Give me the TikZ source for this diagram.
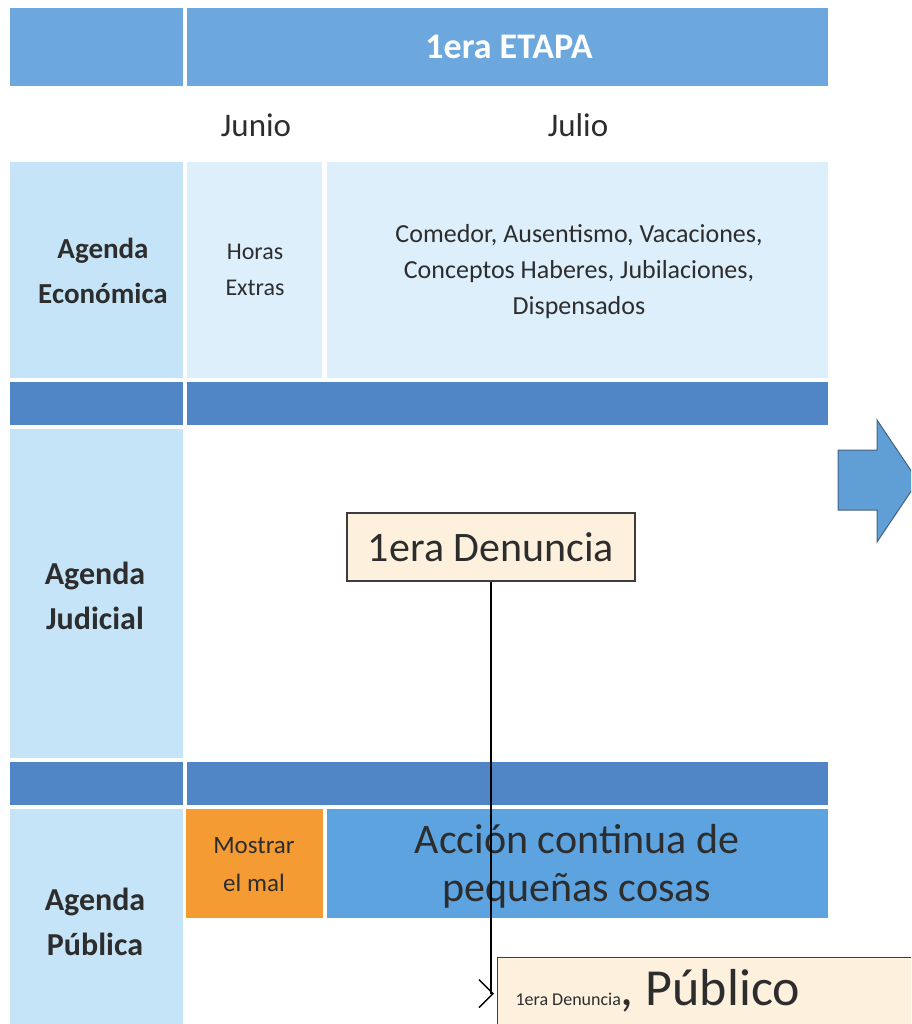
\documentclass[tikz,border=0pt]{standalone}
\usepackage{fontspec}
\setmainfont{Carlito}
\usetikzlibrary{arrows.meta}

\definecolor{headblue}{RGB}{108,168,222}
\definecolor{bandblue}{RGB}{80,134,198}
\definecolor{sideblue}{RGB}{198,228,247}
\definecolor{paleblue}{RGB}{221,239,251}
\definecolor{actblue}{RGB}{92,163,224}
\definecolor{mostorange}{RGB}{244,155,52}
\definecolor{beige}{RGB}{253,241,222}
\definecolor{textgray}{RGB}{45,45,45}
\definecolor{boxgray}{RGB}{60,60,60}
\definecolor{arrowblue}{RGB}{96,158,214}
\definecolor{arrowedge}{RGB}{70,98,128}

\begin{document}
\begin{tikzpicture}[x=1pt,y=-1pt,
  rowtitle/.style={text=textgray,align=center,font=\bfseries\fontsize{32}{45}\selectfont},
  celltext/.style={text=textgray,align=center,font=\fontsize{24}{36}\selectfont},
  notebox/.style={draw=boxgray,line width=1.2pt,fill=beige,text=textgray}]
  \useasboundingbox (0,0) rectangle (911,1024);
  \clip (0,0) rectangle (911,1024);

  % header rows
  \fill[headblue] (10,8) rectangle (183,86);
  \fill[headblue] (187,8) rectangle (828,86);
  \node[text=white,font=\bfseries\fontsize{36}{40}\selectfont] (etapa) at (509,47) {1era ETAPA};
  \node[text=textgray,font=\fontsize{33}{40}\selectfont] (junio) at (256,125) {Junio};
  \node[text=textgray,font=\fontsize{33}{40}\selectfont] (julio) at (578,125) {Julio};

  % agenda economica
  \fill[sideblue] (10,162) rectangle (183,378);
  \fill[paleblue] (187,162) rectangle (322,378);
  \fill[paleblue] (327,162) rectangle (828,378);
  \node[rowtitle,font=\bfseries\fontsize{29}{45}\selectfont] (eco) at (103,271) {Agenda\\Económica};
  \node[celltext] (horas) at (255,270) {Horas\\Extras};
  \node[celltext,font=\fontsize{26}{36}\selectfont] (temas) at (579,272) {Comedor, Ausentismo, Vacaciones,\\Conceptos Haberes, Jubilaciones,\\Dispensados};

  % separadores
  \fill[bandblue] (10,382) rectangle (183,425);
  \fill[bandblue] (187,382) rectangle (828,425);
  \fill[bandblue] (10,762) rectangle (183,805);
  \fill[bandblue] (187,762) rectangle (828,805);

  % agenda judicial
  \fill[sideblue] (10,429) rectangle (183,758);
  \node[rowtitle] (jud) at (95,596) {Agenda\\Judicial};

  % agenda publica
  \fill[sideblue] (10,809) rectangle (183,1024);
  \fill[mostorange] (186,809) rectangle (323,918);
  \fill[actblue] (327,809) rectangle (828,918);
  \node[rowtitle] (pub) at (95,922) {Agenda\\Pública};
  \node[text=textgray,align=center,font=\fontsize{25}{38}\selectfont] (mostrar) at (254,865) {Mostrar\\el mal};
  \node[text=textgray,align=center,font=\fontsize{42}{48}\selectfont] (accion) at (577,866) {Acción continua de\\pequeñas cosas};

  % flecha
  \draw[arrowedge,fill=arrowblue,line width=1pt]
    (838,450) -- (877,450) -- (877,420) -- (918,481) -- (877,542) -- (877,510) -- (838,510) -- cycle;

  % denuncias
  \node[notebox,minimum width=288,minimum height=68,font=\fontsize{42}{48}\selectfont] (den) at (491,547) {1era Denuncia};
  \node[notebox,anchor=north west,minimum width=440,minimum height=72] (denpub) at (497,957) {};
  \node[anchor=base west,text=textgray] (denpubtext) at (512,1005)
    {\fontsize{18}{20}\selectfont 1era Denuncia\fontsize{52}{56}\selectfont, Público};

  \draw[black,line width=1.5pt,shorten >=3pt,-{Straight Barb[length=14pt,width=28pt,line width=1.5pt]}]
    (den.south) |- (denpub.west);
\end{tikzpicture}
\end{document}
